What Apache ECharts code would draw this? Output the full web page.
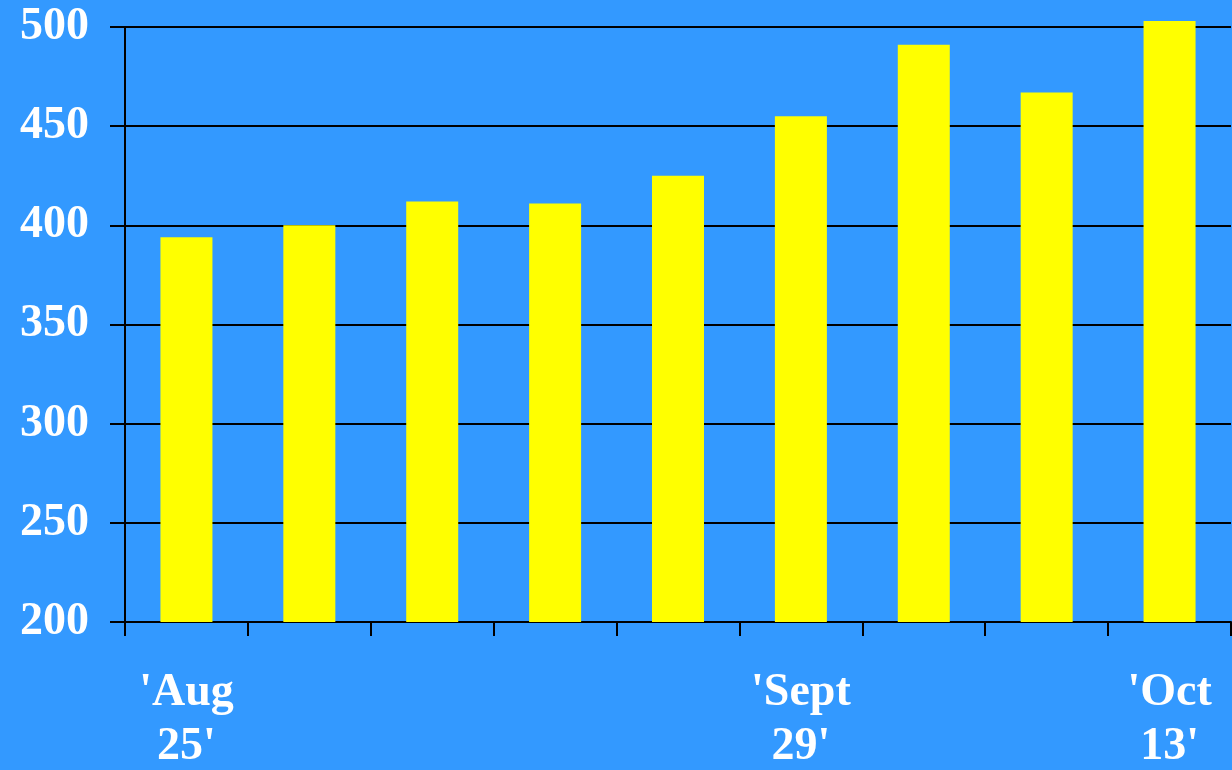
<!DOCTYPE html>
<html>
<head>
<meta charset="utf-8">
<script src="https://cdn.jsdelivr.net/npm/echarts@6/dist/echarts.min.js"></script>
<style>
  html, body { margin: 0; padding: 0; background: #3399FF; }
  #chart { width: 1232px; height: 770px; }
</style>
</head>
<body>
<div id="chart"></div>
<script>
// Week labels along the bottom; only some weeks carry a date
const categories = ["'Aug\n25'", "", "", "", "", "'Sept\n29'", "", "", "'Oct\n13'"];
// Weekly values
const values = [394, 400, 412, 411, 425, 455, 491, 467, 503];
// Value axis range shown with ticks
const yMin = 200;
const yMax = 500;
const yStep = 50;
// Extra headroom so a bar just above the top gridline stays visible
const yHeadroom = 10;

const labelFont = {
  color: '#FFFFFF',
  fontFamily: '"Liberation Serif", "Times New Roman", serif',
  fontWeight: 'bold',
  fontSize: 46
};
const black2 = { color: '#000000', width: 2 };

// Plot box (pixels)
const plotLeft = 125, plotRight = 1, plotTop = 27, plotBottom = 148;
const plotH = 770 - plotTop - plotBottom;
// Second grid shares the same scale but reaches a little higher
const barTop = plotTop - plotH * yHeadroom / (yMax - yMin);

const gridBase = { left: plotLeft, right: plotRight, bottom: plotBottom, containLabel: false, outerBoundsMode: 'none' };

const chart = echarts.init(document.getElementById('chart'), null, { renderer: 'canvas' });
chart.setOption({
  backgroundColor: '#3399FF',
  animation: false,
  grid: [
    Object.assign({ top: plotTop }, gridBase),
    Object.assign({ top: barTop }, gridBase)
  ],
  xAxis: [{
    gridIndex: 0,
    type: 'category',
    data: categories,
    boundaryGap: true,
    axisLine: { show: true, lineStyle: black2 },
    axisTick: { show: true, interval: 0, length: 14, lineStyle: black2 },
    axisLabel: Object.assign({ interval: 0, margin: 44, lineHeight: 54 }, labelFont),
    splitLine: { show: false }
  }, {
    gridIndex: 1,
    type: 'category',
    data: categories,
    boundaryGap: true,
    show: false
  }],
  yAxis: [{
    gridIndex: 0,
    type: 'value',
    min: yMin,
    max: yMax,
    interval: yStep,
    axisLine: { show: true, lineStyle: black2 },
    axisTick: { show: true, length: 15, lineStyle: black2 },
    axisLabel: Object.assign({ margin: 36 }, labelFont),
    splitLine: { show: true, lineStyle: black2 }
  }, {
    gridIndex: 1,
    type: 'value',
    min: yMin,
    max: yMax + yHeadroom,
    show: false,
    splitLine: { show: false }
  }],
  series: [{
    type: 'bar',
    xAxisIndex: 1,
    yAxisIndex: 1,
    data: values,
    barWidth: 52,
    z: 5,
    itemStyle: { color: '#FFFF00' }
  }]
});
</script>
</body>
</html>
